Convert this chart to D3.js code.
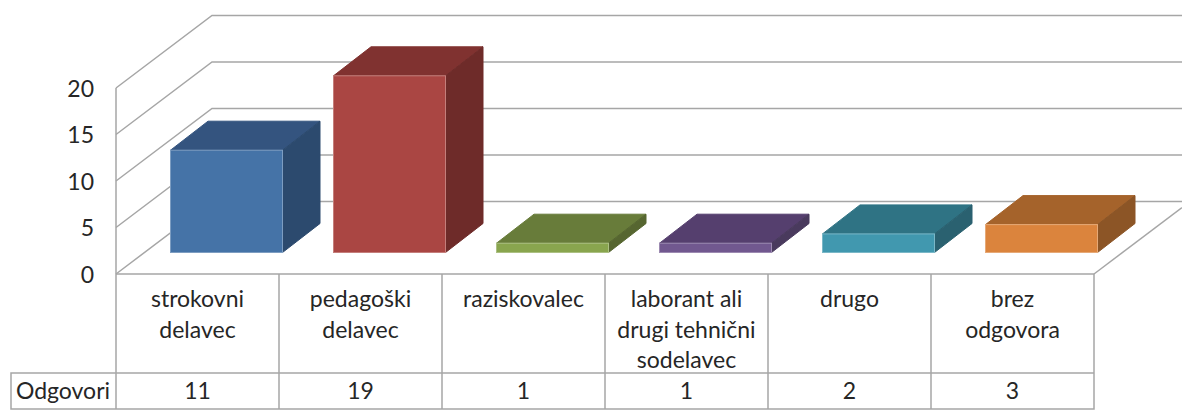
<!DOCTYPE html>
<html>
<head>
<meta charset="utf-8">
<script src="https://cdn.jsdelivr.net/npm/d3@7"></script>
<style>
    html, body { margin: 0; padding: 0; background: #fff; }
    svg { display: block; }
    text { font-family: Lato, "Open Sans", sans-serif; fill: #262626; }
</style>
</head>
<body>
<div id="chart"></div>
<script>
// Chart data
const categories = ['strokovni delavec', 'pedagoški delavec', 'raziskovalec', 'laborant ali drugi tehnični sodelavec', 'drugo', 'brez odgovora'];
const categoryLines = [['strokovni', 'delavec'], ['pedagoški', 'delavec'], ['raziskovalec'], ['laborant ali', 'drugi tehnični', 'sodelavec'], ['drugo'], ['brez', 'odgovora']];
const values = [11, 19, 1, 1, 2, 3];
const yTicks = [0, 5, 10, 15, 20];
const seriesName = 'Odgovori';
const frontColors = ['#4573a7', '#aa4643', '#89a54e', '#71588f', '#4198af', '#db843d'];
const topColors = ['#34547f', '#803230', '#687c3a', '#553f6e', '#2f7384', '#a5632b'];
const sideColors = ['#2c4a6e', '#6e2b29', '#566630', '#493a5d', '#2a6170', '#8c5526'];

const width = 1182, height = 414;
const gridColor = '#a6a6a6';

const svg = d3.select('#chart').append('svg')
    .attr('width', width)
    .attr('height', height);

// Scales for the front plane of the plot
const x = d3.scaleBand().domain(categories).range([116, 1094]);
const y = d3.scaleLinear().domain([0, 20]).range([274, 88]);

// Wall offset and bar depth
const wallDx = 96, wallDy = -72.5;
const barDx = 37.5, barDy = -29;
const barWidth = 112, barShift = -27; // front face, relative to the column centre
const barBase = 21.5; // gap between floor edge and bar foot

// Walls and gridlines
const grid = svg.append('g')
    .attr('fill', 'none')
    .attr('stroke', gridColor)
    .attr('stroke-width', 1.5);

grid.selectAll('path')
    .data(yTicks)
    .enter().append('path')
    .attr('d', d => `M116,${y(d)}L${116 + wallDx},${y(d) + wallDy}L${width},${y(d) + wallDy}`);

// Floor edge on the right
grid.append('path')
    .attr('d', `M1094,${y(0)}L${width},${y(0) + wallDy * 88 / wallDx}`);

// Bars
const bars = svg.append('g')
    .selectAll('g')
    .data(categories)
    .enter().append('g');

const barX = d => x(d) + x.bandwidth() / 2 + barShift;
const barTop = (d, i) => y(values[i]) - barBase;
const barFoot = y(0) - barBase;

bars.append('path')
    .attr('fill', (d, i) => topColors[i])
    .attr('stroke', (d, i) => topColors[i])
    .attr('d', (d, i) => {
        const x0 = barX(d), t = barTop(d, i);
        return `M${x0},${t}l${barDx},${barDy}h${barWidth}l${-barDx},${-barDy}z`;
    });

bars.append('path')
    .attr('fill', (d, i) => sideColors[i])
    .attr('stroke', (d, i) => sideColors[i])
    .attr('d', (d, i) => {
        const x1 = barX(d) + barWidth, t = barTop(d, i);
        return `M${x1},${t}l${barDx},${barDy}V${barFoot + barDy}L${x1},${barFoot}z`;
    });

bars.append('rect')
    .attr('fill', (d, i) => frontColors[i])
    .attr('stroke', (d, i) => d3.interpolateRgb(frontColors[i], '#fff')(0.3))
    .attr('x', d => barX(d))
    .attr('y', (d, i) => barTop(d, i))
    .attr('width', barWidth)
    .attr('height', (d, i) => barFoot - barTop(d, i));

// Y axis labels
const yAxis = svg.append('g')
    .attr('transform', 'translate(116,1)')
    .call(d3.axisLeft(y).tickValues(yTicks).tickSize(0).tickPadding(22));
yAxis.select('.domain').remove();
yAxis.selectAll('text')
    .style('font-size', '23px')
    .style('font-family', 'Lato, "Open Sans", sans-serif')
    .attr('fill', '#262626');

// Data table
const tableTop = y(0), tableMid = 373, tableBottom = 409, tableLeft = 11;
const table = svg.append('g')
    .attr('fill', 'none')
    .attr('stroke', gridColor)
    .attr('stroke-width', 1.5);

table.append('path')
    .attr('d', `M116,${y(20)}V${tableBottom}`);
table.append('path')
    .attr('d', `M116,${tableTop}H1094V${tableBottom}H${tableLeft}V${tableMid}H1094`);
table.selectAll('line')
    .data(categories.slice(1))
    .enter().append('line')
    .attr('x1', d => x(d))
    .attr('x2', d => x(d))
    .attr('y1', tableTop)
    .attr('y2', tableBottom);

const cells = svg.append('g')
    .attr('text-anchor', 'middle')
    .style('font-size', '23px');

categories.forEach((c, i) => {
    const cx = x(c) + x.bandwidth() / 2;
    categoryLines[i].forEach((line, j) => {
        cells.append('text')
            .attr('x', cx)
            .attr('y', 307 + j * 30.5)
            .text(line);
    });
    cells.append('text')
        .attr('x', cx)
        .attr('y', 399)
        .text(values[i]);
});

cells.append('text')
    .attr('x', 63)
    .attr('y', 399)
    .text(seriesName);
</script>
</body>
</html>
